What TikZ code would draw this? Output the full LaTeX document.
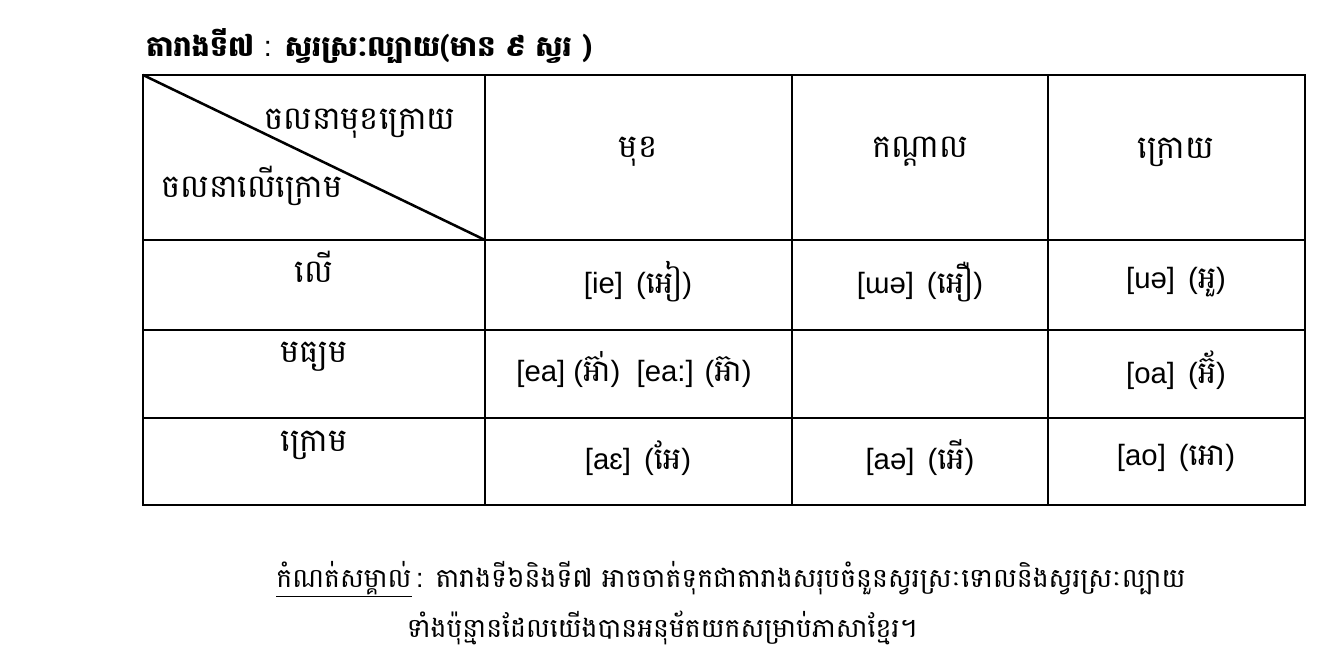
\documentclass[tikz,border=0pt]{standalone}
\usepackage{fontspec}
\setmainfont{Liberation Sans}
\newfontfamily\khmer[Script=Khmer]{Battambang}

\tikzstyle{headText}=[font=\khmer\fontsize{24}{28}\selectfont,inner sep=0pt]
\tikzstyle{vowelText}=[font=\fontsize{22}{26}\selectfont,inner sep=0pt]
\tikzstyle{noteText}=[font=\khmer\fontsize{20}{24}\selectfont,inner sep=0pt]
\tikzstyle{gridLine}=[line width=1.2pt]
\newcommand{\kh}[1]{{\khmer\fontsize{23}{26}\selectfont #1}}

\begin{document}
\begin{tikzpicture}[x=0.75pt,y=-0.75pt]
  \useasboundingbox (0,0) rectangle (1339,659);

  % title
  \node[font=\khmer\bfseries\fontsize{21.5}{25}\selectfont,inner sep=0pt,anchor=west] (title) at (146,46)
    {តារាងទី៧ {\rmfamily\mdseries :} ស្វរស្រៈល្បាយ(មាន ៩ ស្វរ )};

  % table
  \draw[gridLine] (143,240) -- (1305,240);
  \draw[gridLine] (143,330) -- (1305,330);
  \draw[gridLine] (143,418) -- (1305,418);
  \draw[gridLine] (485,75) -- (485,505);
  \draw[gridLine] (792,75) -- (792,505);
  \draw[gridLine] (1048,75) -- (1048,505);
  \draw[line width=1.8pt] (143,75) rectangle (1305,505);
  \draw[line width=1.9pt] (143,75) -- (485,240);

  % header cell
  \node[headText] (motion) at (360,124) {ចលនាមុខក្រោយ};
  \node[headText] (height) at (252,186) {ចលនាលើក្រោម};
  \node[headText] (front) at (638,152) {មុខ};
  \node[headText] (central) at (920,152) {កណ្ដាល};
  \node[headText] (back) at (1176,152) {ក្រោយ};

  % row heads
  \node[headText] (high) at (314,267) {លើ};
  \node[headText] (mid) at (314,357) {មធ្យម};
  \node[headText] (low) at (314,445) {ក្រោម};

  % vowels
  \node[vowelText] (ie) at (638,282) {[ie] \,(\kh{អៀ})};
  \node[vowelText] (ue) at (920,282) {[ɯə] \,(\kh{អឿ})};
  \node[vowelText] (uo) at (1176,282) {[uə] \,(\kh{អួ})};
  \node[vowelText] (ea) at (634,370) {[ea] (\kh{អ៊ា់})\ \ [ea:] (\kh{អ៊ា})};
  \node[vowelText] (oa) at (1176,370) {[oa] \,(\kh{អ៊័})};
  \node[vowelText] (ae) at (638,458) {[aɛ] \,(\kh{អែ})};
  \node[vowelText] (ao) at (920,458) {[aə] \,(\kh{អើ})};
  \node[vowelText] (au) at (1176,458) {[ao] \,(\kh{អោ})};

  % note
  \node[noteText] (note1) at (731,579)
    {\underline{កំណត់សម្គាល់}\,{\rmfamily :} តារាងទី៦និងទី៧ អាចចាត់ទុកជាតារាងសរុបចំនួនស្វរស្រៈទោលនិងស្វរស្រៈល្បាយ};
  \node[noteText] (note2) at (662,628)
    {ទាំងប៉ុន្មានដែលយើងបានអនុម័តយកសម្រាប់ភាសាខ្មែរ។};
\end{tikzpicture}
\end{document}
